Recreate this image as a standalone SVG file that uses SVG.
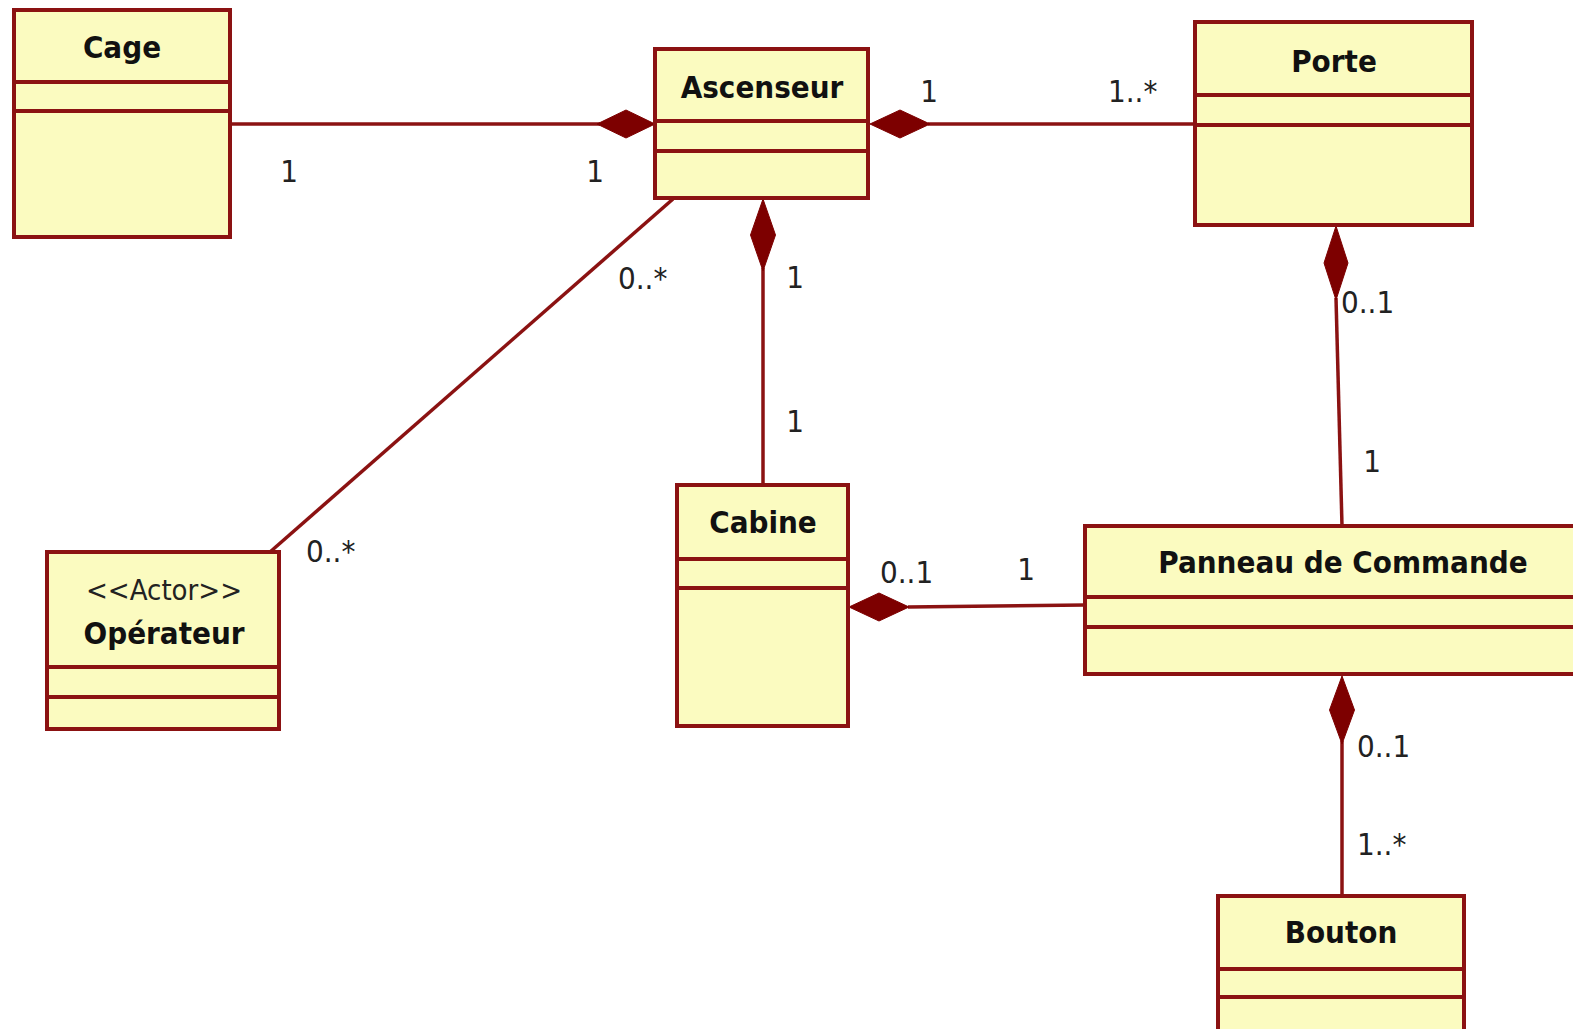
<svg xmlns="http://www.w3.org/2000/svg" width="1573" height="1029" viewBox="0 0 1573 1029">
<style>
.box{fill:#fbfbc0;stroke:#8b1212;stroke-width:4}
.div{stroke:#8b1212;stroke-width:4;fill:none}
.title{font-family:"DejaVu Sans Condensed","DejaVu Sans","Liberation Sans",sans-serif;font-weight:bold;font-size:31px;fill:#111;text-anchor:middle}
.stereo{font-family:"DejaVu Sans Condensed","DejaVu Sans","Liberation Sans",sans-serif;font-size:29px;fill:#222;text-anchor:middle}
.conn{stroke:#8b1212;stroke-width:3.5;fill:none}
.dia{fill:#7d0000;stroke:#7d0000;stroke-width:1}
.lbl{font-family:"DejaVu Sans Condensed","DejaVu Sans","Liberation Sans",sans-serif;font-size:31px;fill:#222}
.c{text-anchor:middle}
</style>
<rect width="1573" height="1029" fill="#ffffff"/>

<g id="connectors">
  <line class="conn" x1="230" y1="124" x2="600" y2="124"/>
  <polygon class="dia" points="655,124 626,110 597,124 626,138"/>
  <line class="conn" x1="928" y1="124" x2="1195" y2="124"/>
  <polygon class="dia" points="870,124 900,110 930,124 900,138"/>
  <line class="conn" x1="763" y1="268" x2="763" y2="485"/>
  <polygon class="dia" points="763,199 775.5,235 763,271 750.5,235"/>
  <line class="conn" x1="673" y1="199" x2="270" y2="552"/>
  <line class="conn" x1="1336" y1="298" x2="1342" y2="526"/>
  <polygon class="dia" points="1336,226 1348,263 1336,300 1324,263"/>
  <line class="conn" x1="908" y1="607" x2="1085" y2="605"/>
  <polygon class="dia" points="849,607 879,593 909,607 879,621"/>
  <line class="conn" x1="1342" y1="741" x2="1342" y2="896"/>
  <polygon class="dia" points="1342,676 1354.5,710 1342,744 1329.5,710"/>
  <text class="lbl c" x="289" y="182">1</text>
  <text class="lbl c" x="595" y="182">1</text>
  <text class="lbl c" x="929" y="102">1</text>
  <text class="lbl" x="1108" y="102">1..*</text>
  <text class="lbl" x="618" y="289">0..*</text>
  <text class="lbl c" x="795" y="288">1</text>
  <text class="lbl c" x="795" y="432">1</text>
  <text class="lbl" x="1341" y="313">0..1</text>
  <text class="lbl c" x="1372" y="472">1</text>
  <text class="lbl" x="306" y="562">0..*</text>
  <text class="lbl" x="880" y="583">0..1</text>
  <text class="lbl c" x="1026" y="580">1</text>
  <text class="lbl" x="1357" y="757">0..1</text>
  <text class="lbl" x="1357" y="855">1..*</text>
</g>

<g id="cage">
  <rect class="box" x="14" y="10" width="216" height="227"/>
  <line class="div" x1="14" y1="82" x2="232" y2="82"/>
  <line class="div" x1="14" y1="111" x2="232" y2="111"/>
  <text class="title" x="122" y="58">Cage</text>
</g>

<g id="ascenseur">
  <rect class="box" x="655" y="49" width="213" height="149"/>
  <line class="div" x1="655" y1="121" x2="870" y2="121"/>
  <line class="div" x1="655" y1="151" x2="870" y2="151"/>
  <text class="title" x="762" y="98">Ascenseur</text>
</g>

<g id="porte">
  <rect class="box" x="1195" y="22" width="277" height="203"/>
  <line class="div" x1="1195" y1="95" x2="1474" y2="95"/>
  <line class="div" x1="1195" y1="125" x2="1474" y2="125"/>
  <text class="title" x="1334" y="72">Porte</text>
</g>

<g id="operateur">
  <rect class="box" x="47" y="552" width="232" height="177"/>
  <line class="div" x1="47" y1="667" x2="281" y2="667"/>
  <line class="div" x1="47" y1="697" x2="281" y2="697"/>
  <text class="stereo" x="164" y="600">&lt;&lt;Actor&gt;&gt;</text>
  <text class="title" x="164" y="644">Opérateur</text>
</g>

<g id="cabine">
  <rect class="box" x="677" y="485" width="171" height="241"/>
  <line class="div" x1="677" y1="559" x2="850" y2="559"/>
  <line class="div" x1="677" y1="588" x2="850" y2="588"/>
  <text class="title" x="763" y="533">Cabine</text>
</g>

<g id="panneau">
  <rect x="1085" y="526" width="488" height="148" fill="#fbfbc0"/>
  <path class="div" d="M1573,526 H1085 V674 H1573"/>
  <line class="div" x1="1085" y1="597" x2="1573" y2="597"/>
  <line class="div" x1="1085" y1="627" x2="1573" y2="627"/>
  <text class="title" x="1343" y="573">Panneau de Commande</text>
</g>

<g id="bouton">
  <rect x="1218" y="896" width="246" height="133" fill="#fbfbc0"/>
  <path class="div" d="M1218,1029 V896 H1464 V1029"/>
  <line class="div" x1="1218" y1="969" x2="1466" y2="969"/>
  <line class="div" x1="1218" y1="997" x2="1466" y2="997"/>
  <text class="title" x="1341" y="943">Bouton</text>
</g>
</svg>
